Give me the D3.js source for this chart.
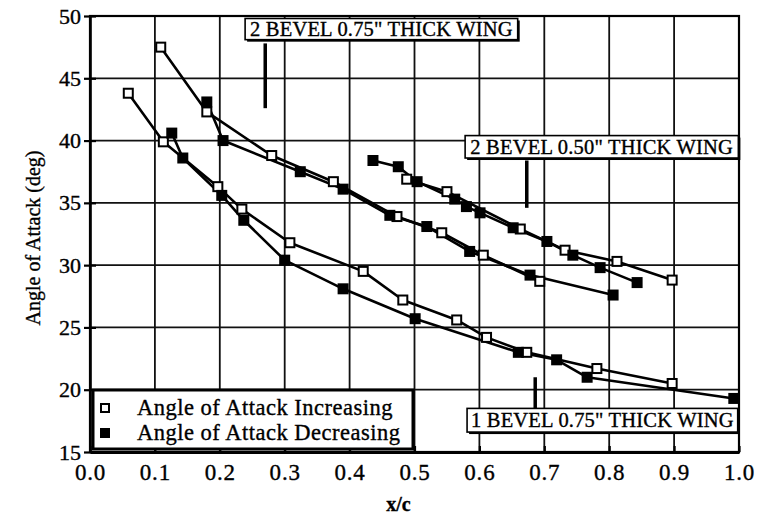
<!DOCTYPE html>
<html>
<head>
<meta charset="utf-8">
<script src="https://cdn.jsdelivr.net/npm/d3@7"></script>
<style>
  html, body { margin: 0; padding: 0; background: #fff; }
  svg { display: block; }
  text { font-family: "Liberation Serif", "Times New Roman", serif; fill: #000; stroke: #000; stroke-width: 0.35px; }
</style>
</head>
<body>
<svg id="chart" width="759" height="523"></svg>
<script>
// Measured angle of attack vs. chordwise position x/c for three wing configurations.

// 2 bevel, 0.75" thick wing
const bevel2t75Inc = [[0.109, 47.5], [0.180, 42.3], [0.280, 38.8], [0.375, 36.7], [0.473, 33.9],
                      [0.542, 32.6], [0.606, 30.8], [0.693, 28.7]];
const bevel2t75Dec = [[0.180, 43.1], [0.205, 40.0], [0.324, 37.5], [0.390, 36.1], [0.462, 34.0],
                      [0.519, 33.1], [0.585, 31.1], [0.678, 29.2], [0.806, 27.6]];

// 2 bevel, 0.50" thick wing
const bevel2t50Inc = [[0.488, 36.9], [0.550, 35.9], [0.663, 32.9], [0.732, 31.2], [0.812, 30.3],
                      [0.897, 28.8]];
const bevel2t50Dec = [[0.436, 38.4], [0.475, 37.9], [0.504, 36.7], [0.562, 35.3], [0.580, 34.7],
                      [0.601, 34.2], [0.652, 33.0], [0.704, 31.9], [0.744, 30.8], [0.786, 29.8],
                      [0.843, 28.6]];

// 1 bevel, 0.75" thick wing
const bevel1t75Inc = [[0.059, 43.8], [0.113, 39.9], [0.197, 36.3], [0.234, 34.5], [0.308, 31.8],
                      [0.421, 29.5], [0.482, 27.2], [0.565, 25.6], [0.611, 24.2], [0.673, 23.0],
                      [0.781, 21.7], [0.897, 20.5]];
const bevel1t75Dec = [[0.126, 40.6], [0.143, 38.6], [0.203, 35.6], [0.237, 33.6], [0.300, 30.4],
                      [0.390, 28.1], [0.501, 25.7], [0.660, 23.0], [0.719, 22.4], [0.766, 21.0],
                      [0.992, 19.3]];

const xTicks = [0.0, 0.1, 0.2, 0.3, 0.4, 0.5, 0.6, 0.7, 0.8, 0.9, 1.0];
const yTicks = [15, 20, 25, 30, 35, 40, 45, 50];

const legendLabels = ["Angle of Attack Increasing", "Angle of Attack Decreasing"];

// Callout labels: text, box corners in data units, leader line (x, y0, y1) in data units
const callouts = [
  { text: "2 BEVEL 0.75\" THICK WING", box: [0.239, 0.659, 49.8, 48.1], lead: [0.270, 47.8, 42.6] },
  { text: "2 BEVEL 0.50\" THICK WING", box: [0.578, 0.999, 40.4, 38.6], lead: [0.673, 38.4, 34.6] },
  { text: "1 BEVEL 0.75\" THICK WING", box: [0.581, 0.998, 18.5, 16.6], lead: [0.686, 21.0, 17.6] }
];

const svg = d3.select("#chart");
const x = d3.scaleLinear().domain([0, 1]).range([90, 739]);
const y = d3.scaleLinear().domain([15, 50]).range([452, 16]);

// grid
const grid = svg.append("g");
grid.selectAll("line.v").data(xTicks.slice(1)).join("line")
  .attr("x1", d => x(d)).attr("x2", d => x(d))
  .attr("y1", y(15)).attr("y2", y(50))
  .attr("stroke", "#111").attr("stroke-width", 1.8);
grid.selectAll("line.h").data(yTicks.slice(1)).join("line")
  .attr("x1", x(0)).attr("x2", x(1))
  .attr("y1", d => y(d)).attr("y2", d => y(d))
  .attr("stroke", "#111").attr("stroke-width", 1.8);

// frame
svg.append("rect").attr("x", x(0)).attr("y", y(50))
  .attr("width", x(1) - x(0)).attr("height", y(15) - y(50))
  .attr("fill", "none").attr("stroke", "#000").attr("stroke-width", 2.2);

// axes
const xAxis = svg.append("g").attr("transform", `translate(0,${y(15)})`)
  .call(d3.axisBottom(x).tickValues(xTicks).tickFormat(d3.format(".1f")).tickSizeInner(-6).tickSizeOuter(0).tickPadding(12));
xAxis.select(".domain").attr("stroke", "#000").attr("stroke-width", 3.2);
xAxis.selectAll(".tick line").attr("stroke", "#000").attr("stroke-width", 2.2);
xAxis.selectAll(".tick text").attr("font-size", 23).attr("font-family", "Liberation Serif")
  .attr("letter-spacing", 0.8);

const yAxis = svg.append("g").attr("transform", `translate(${x(0)},0)`)
  .call(d3.axisLeft(y).tickValues(yTicks).tickSize(6).tickSizeOuter(0).tickPadding(3));
yAxis.select(".domain").attr("stroke", "#000").attr("stroke-width", 2.6);
yAxis.selectAll(".tick line").attr("x1", 6).attr("x2", -6).attr("stroke", "#000").attr("stroke-width", 2.2);
yAxis.selectAll(".tick text").attr("font-size", 22).attr("font-family", "Liberation Serif");

// axis titles
svg.append("text").attr("transform", `translate(40,${(y(15) + y(50)) / 2 + 4}) rotate(-90)`)
  .attr("text-anchor", "middle").attr("font-size", 20).text("Angle of Attack (deg)");
svg.append("text").attr("x", (x(0) + x(1)) / 2 - 16).attr("y", 511)
  .attr("text-anchor", "middle").attr("font-size", 20).attr("font-weight", "bold").text("x/c");

// series
const line = d3.line().x(d => x(d[0])).y(d => y(d[1]));
const series = [
  { data: bevel2t75Inc, filled: false }, { data: bevel2t75Dec, filled: true },
  { data: bevel2t50Inc, filled: false }, { data: bevel2t50Dec, filled: true },
  { data: bevel1t75Inc, filled: false }, { data: bevel1t75Dec, filled: true }
];
const plot = svg.append("g");
series.forEach(s => {
  plot.append("path").datum(s.data).attr("d", line)
    .attr("fill", "none").attr("stroke", "#000").attr("stroke-width", 2.6).attr("stroke-linejoin", "round");
});
const ms = 9;
series.forEach(s => {
  plot.selectAll(null).data(s.data).join("rect")
    .attr("x", d => x(d[0]) - ms / 2).attr("y", d => y(d[1]) - ms / 2)
    .attr("width", ms).attr("height", ms)
    .attr("fill", s.filled ? "#000" : "#fff")
    .attr("stroke", "#000").attr("stroke-width", 2);
});

// callouts
callouts.forEach(c => {
  const [bx0, bx1, by0, by1] = c.box;
  const g = svg.append("g");
  g.append("line").attr("x1", x(c.lead[0])).attr("x2", x(c.lead[0]))
    .attr("y1", y(c.lead[1])).attr("y2", y(c.lead[2]))
    .attr("stroke", "#000").attr("stroke-width", 3.5);
  g.append("rect").attr("x", x(bx0) + 2).attr("y", y(by0) + 2)
    .attr("width", x(bx1) - x(bx0)).attr("height", y(by1) - y(by0)).attr("fill", "#000");
  g.append("rect").attr("x", x(bx0)).attr("y", y(by0))
    .attr("width", x(bx1) - x(bx0)).attr("height", y(by1) - y(by0))
    .attr("fill", "#fff").attr("stroke", "#000").attr("stroke-width", 1.6);
  g.append("text").attr("x", (x(bx0) + x(bx1)) / 2).attr("y", (y(by0) + y(by1)) / 2 + 7)
    .attr("text-anchor", "middle").attr("font-size", 20.5).attr("letter-spacing", 0.2).text(c.text);
});

// legend
const lg = svg.append("g");
lg.append("rect").attr("x", 93).attr("y", 390).attr("width", 320).attr("height", 59)
  .attr("fill", "#fff").attr("stroke", "#000").attr("stroke-width", 3);
legendLabels.forEach((t, i) => {
  const cy = 408 + i * 25;
  lg.append("rect").attr("x", 101).attr("y", cy - 4).attr("width", 8).attr("height", 8)
    .attr("fill", i === 0 ? "#fff" : "#000").attr("stroke", "#000").attr("stroke-width", 2);
  lg.append("text").attr("x", 137).attr("y", cy + 7).attr("font-size", 22.5).attr("letter-spacing", 0.5).text(t);
});
</script>
</body>
</html>
